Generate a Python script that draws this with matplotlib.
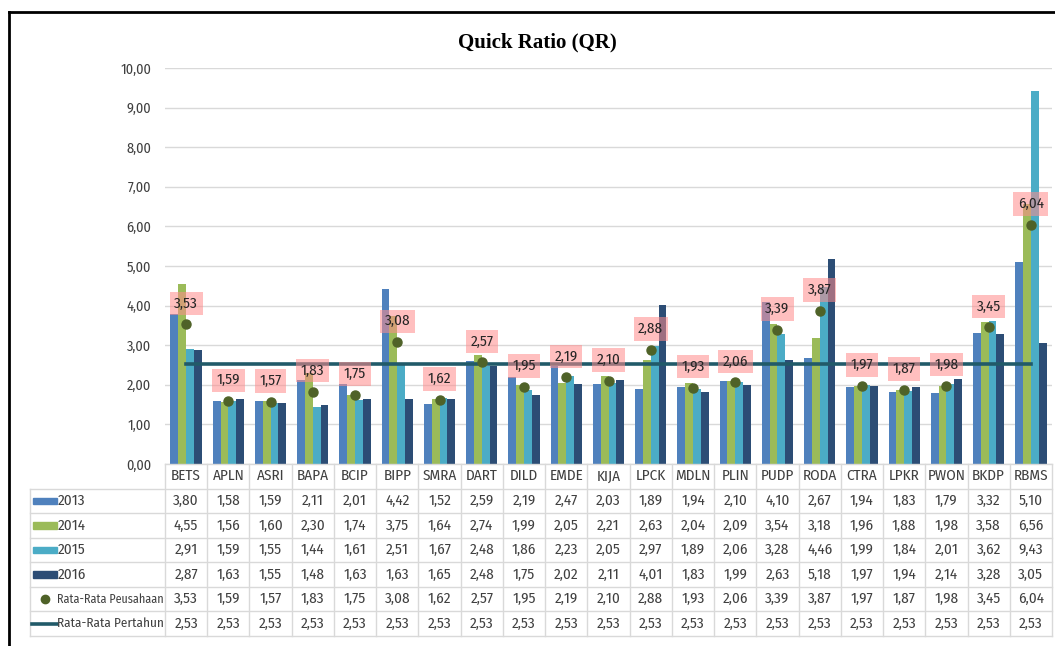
import matplotlib
matplotlib.use("Agg")
import matplotlib.pyplot as plt
from matplotlib import font_manager
from matplotlib.font_manager import FontProperties
from matplotlib.textpath import TextPath
from matplotlib.lines import Line2D
from matplotlib.patches import Rectangle
import numpy as np
import os

categories = ["BETS", "APLN", "ASRI", "BAPA", "BCIP", "BIPP", "SMRA", "DART", "DILD", "EMDE", "KIJA",
              "LPCK", "MDLN", "PLIN", "PUDP", "RODA", "CTRA", "LPKR", "PWON", "BKDP", "RBMS"]
v2013 = [3.80, 1.58, 1.59, 2.11, 2.01, 4.42, 1.52, 2.59, 2.19, 2.47, 2.03, 1.89, 1.94, 2.10, 4.10, 2.67, 1.94, 1.83, 1.79, 3.32, 5.10]
v2014 = [4.55, 1.56, 1.60, 2.30, 1.74, 3.75, 1.64, 2.74, 1.99, 2.05, 2.21, 2.63, 2.04, 2.09, 3.54, 3.18, 1.96, 1.88, 1.98, 3.58, 6.56]
v2015 = [2.91, 1.59, 1.55, 1.44, 1.61, 2.51, 1.67, 2.48, 1.86, 2.23, 2.05, 2.97, 1.89, 2.06, 3.28, 4.46, 1.99, 1.84, 2.01, 3.62, 9.43]
v2016 = [2.87, 1.63, 1.55, 1.48, 1.63, 1.63, 1.65, 2.48, 1.75, 2.02, 2.11, 4.01, 1.83, 1.99, 2.63, 5.18, 1.97, 1.94, 2.14, 3.28, 3.05]
rata_perusahaan = [3.53, 1.59, 1.57, 1.83, 1.75, 3.08, 1.62, 2.57, 1.95, 2.19, 2.10, 2.88, 1.93, 2.06, 3.39, 3.87, 1.97, 1.87, 1.98, 3.45, 6.04]
rata_pertahun = [2.53] * 21
y_ticks = [0, 1, 2, 3, 4, 5, 6, 7, 8, 9, 10]

bar_colors = ["#4F81BD", "#9BBB59", "#4BACC6", "#2C4D75"]
dot_color = "#4F6228"
line_color = "#215A69"
grid_color = "#D9D9D9"
text_color = "#404040"

paths = {os.path.basename(f.fname): f.fname for f in font_manager.fontManager.ttflist}
font_path = None
for cand in ["LiberationSansNarrow-Regular.ttf", "FiraSansCondensed-Regular.ttf",
             "IBMPlexSansCondensed-Regular.ttf", "DejaVuSansCondensed.ttf"]:
    if cand in paths:
        font_path = paths[cand]
        break

def make_fp(size):
    if font_path:
        return FontProperties(fname=font_path, size=size)
    return FontProperties(family="DejaVu Sans", size=size)

def ext(s):
    return TextPath((0, 0), s, size=10, prop=make_fp(10)).get_extents()

def fit_w(s, target_px):
    return 10 * target_px / (ext(s).width * 100 / 72)

def fit_h(s, target_px):
    return 10 * target_px / (ext(s).height * 100 / 72)

fs_val = min(fit_h("380", 10.5), fit_w("3,80", 25))
fs_tick = min(fit_h("1000", 10.5), fit_w("10,00", 30))
fp_val = make_fp(fs_val)
fp_tick = make_fp(fs_tick)
fp_lab = make_fp(fs_val)

W, H = 1055, 646
fig = plt.figure(figsize=(W / 100, H / 100), dpi=100)
fig.patch.set_facecolor("white")

def fx(px):
    return px / W

def fy(py):
    return 1 - py / H

ax_l, ax_r, ax_t, ax_b = 165, 1052, 68, 464
ax = fig.add_axes([fx(ax_l), fy(ax_b), fx(ax_r - ax_l), (ax_b - ax_t) / H])
n = len(categories)
x = np.arange(n)
ax.set_xlim(-0.5, n - 0.5)
ax.set_ylim(0, 10)
for s in ax.spines.values():
    s.set_visible(False)
ax.set_yticks(y_ticks)
ax.set_yticklabels([f"{t:.2f}".replace(".", ",") for t in y_ticks], fontproperties=fp_tick, color=text_color)
ax.tick_params(axis="y", length=0, pad=10)
ax.set_xticks([])
ax.grid(axis="y", color=grid_color, lw=1)
ax.set_axisbelow(True)

bw = 0.185
series = [v2013, v2014, v2015, v2016]
for k, (vals, c) in enumerate(zip(series, bar_colors)):
    ax.bar(x + (k - 1.5) * bw, vals, width=bw, color=c, zorder=2)

ax.plot(x, rata_pertahun, color=line_color, lw=2.6, zorder=3)
ax.plot(x, rata_perusahaan, "o", color=dot_color, ms=6.5, zorder=4)
for xi, v in zip(x, rata_perusahaan):
    ax.annotate(f"{v:.2f}".replace(".", ","), (xi, v), xytext=(0, 15), textcoords="offset points",
                ha="center", va="center", fontproperties=fp_lab, color="#262626", zorder=5,
                bbox=dict(boxstyle="square,pad=0.3", fc=(1, 0.55, 0.55, 0.55), ec="none"))

fig.text(fx(537), fy(42), "Quick Ratio (QR)", ha="center", va="center",
         fontsize=15, fontweight="bold", family=["Liberation Serif", "DejaVu Serif"])

tab_l, tab_t, tab_b = 30, 464, 636
unit = (ax_r - ax_l) / n
x_left = -0.5 - (ax_l - tab_l) / unit
tab = fig.add_axes([fx(tab_l), fy(tab_b), fx(ax_r - tab_l), (tab_b - tab_t) / H])
tab.set_xlim(x_left, n - 0.5)
nrows = 7
tab.set_ylim(nrows, 0)
tab.axis("off")

def px2x(px):
    return x_left + (px - tab_l) / unit

tab.plot([-0.5, n - 0.5], [0, 0], color=grid_color, lw=1, clip_on=False)
for r in range(1, nrows + 1):
    tab.plot([x_left, n - 0.5], [r, r], color=grid_color, lw=1, clip_on=False)
for k in range(n + 1):
    tab.plot([k - 0.5, k - 0.5], [0, nrows], color=grid_color, lw=1, clip_on=False)
tab.plot([x_left, x_left], [1, nrows], color=grid_color, lw=1, clip_on=False)

for i, c in enumerate(categories):
    tab.text(i, 0.5, c, ha="center", va="center", fontproperties=fp_val, color=text_color)

rows = [("2013", v2013), ("2014", v2014), ("2015", v2015), ("2016", v2016),
        ("Rata-Rata Peusahaan", rata_perusahaan), ("Rata-Rata Pertahun", rata_pertahun)]
for r, (name, vals) in enumerate(rows, start=1):
    yc = r + 0.5
    for i, v in enumerate(vals):
        tab.text(i, yc, f"{v:.2f}".replace(".", ","), ha="center", va="center", fontproperties=fp_val,
                 color=text_color)
    name_x = 58 if r <= 4 else 57
    fp_name = make_fp(min(fs_val, fit_w(name, 104)))
    tab.text(px2x(name_x), yc, name, ha="left", va="center", fontproperties=fp_name, color=text_color)

for r, c in enumerate(bar_colors, start=1):
    tab.add_patch(Rectangle((px2x(33), r + 0.5 - 0.13), px2x(57) - px2x(33), 0.26, color=c, clip_on=False))
tab.plot([px2x(45)], [5.5], "o", color=dot_color, ms=6, clip_on=False)
tab.plot([px2x(32), px2x(57)], [6.5, 6.5], color=line_color, lw=2.6, clip_on=False)

fig.add_artist(Line2D([fx(9), fx(9)], [fy(12), 0], color="black", lw=2))
fig.add_artist(Line2D([fx(9), 1], [fy(12), fy(12)], color="black", lw=2))

fig.savefig("out.png", dpi=100)
